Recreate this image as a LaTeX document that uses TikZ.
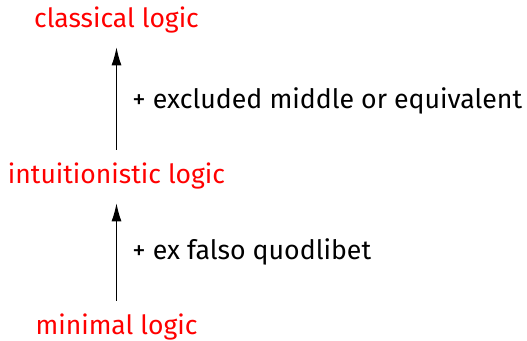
\documentclass[tikz,border=0pt]{standalone}
\usepackage{fontspec}
\setmainfont{Fira Sans}
\usetikzlibrary{arrows.meta,positioning}
\tikzset{
  logicname/.style={text=red, font=\fontsize{13.25}{15}\selectfont, inner sep=0pt,
    text height=9pt, text depth=3pt, anchor=base},
  extlabel/.style={text=black, font=\fontsize{13.35}{15}\selectfont, inner sep=0pt, anchor=base west},
  extends/.style={-{Latex[length=9pt,width=5pt]}, line width=0.5pt, shorten <=8pt, shorten >=6.5pt}
}
\begin{document}
\begin{tikzpicture}[x=1pt,y=1pt]
  \useasboundingbox (0,0) rectangle (263.5,170.5);
  % the three logics
  \node[logicname] (minimal) at (58.25,3) {minimal logic};
  \node[logicname] (intuit) at (58.25,78.5) {intuitionistic logic};
  \node[logicname] (classical) at (58.25,156.5) {classical logic};
  % what is added at each step
  \draw[extends] (minimal) -- (intuit);
  \draw[extends] (intuit) -- (classical);
  \node[extlabel] (efq) at (66,40.5) {+ ex falso quodlibet};
  \node[extlabel] (lem) at (66,116) {+ excluded middle or equivalent};
\end{tikzpicture}
\end{document}
